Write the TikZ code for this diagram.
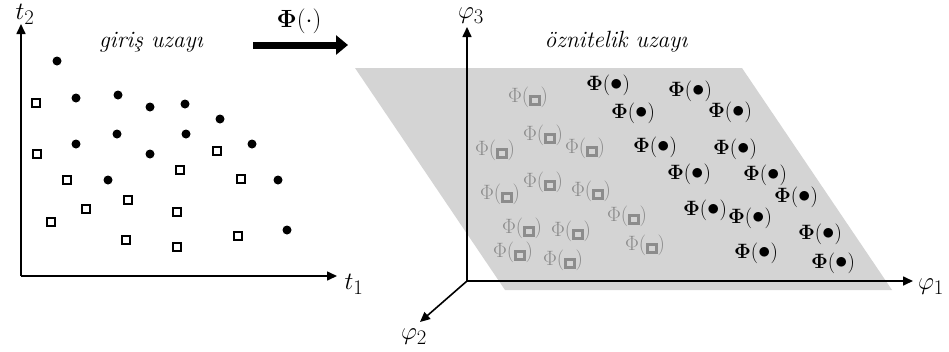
\documentclass[tikz,border=0pt]{standalone}
\usepackage{amsmath}
\usetikzlibrary{arrows.meta}
\definecolor{planegray}{HTML}{D4D4D4}
\definecolor{graytxt}{HTML}{8C8C8C}
\newcommand{\sqm}{\raisebox{0.0em}{\setlength{\fboxrule}{0.13em}\setlength{\fboxsep}{0.06em}\fbox{\rule{0.15em}{0pt}\rule{0pt}{0.15em}}}}
\newcommand{\bigdot}{\raisebox{-0.04em}{\scalebox{1.2}{$\bullet$}}}
\newcommand{\phidot}{$\mathbf{\Phi}($\bigdot$)$}
\newcommand{\phisq}{$\Phi($\sqm$)$}
\tikzset{
  dot/.style={circle,fill=black,inner sep=0pt,minimum size=9pt},
  sqr/.style={rectangle,draw=black,fill=white,line width=2.3pt,inner sep=0pt,minimum size=8.5pt},
  axis/.style={line width=1.6pt,-{Triangle[length=10pt,width=9pt]}},
  lbl/.style={font=\fontsize{28}{32}\selectfont,inner sep=0pt},
  title/.style={font=\fontsize{23.5}{27}\selectfont\itshape,inner sep=0pt},
  blk/.style={font=\fontsize{20}{24}\selectfont,inner sep=0pt,text=black},
  gry/.style={font=\fontsize{21.5}{25}\selectfont,inner sep=0pt,text=graytxt},
  maplbl/.style={font=\fontsize{24}{28}\selectfont,inner sep=0pt},
}
\begin{document}
\begin{tikzpicture}[x=1pt,y=-1pt]
\useasboundingbox (0,0) rectangle (949,351);
% ---------- left: input space ----------
\coordinate (O1) at (21,276);
\coordinate (T2) at (21,24);
\coordinate (T1) at (337,276);
\draw[axis] (O1) -- (T2);
\draw[axis] (O1) -- (T1);
\node[lbl] (t2) at (25,14) {$t_2$};
\node[lbl] (t1) at (354,284) {$t_1$};
\node[title] (giris) at (151,42) {giriş uzayı};
\foreach \x/\y [count=\i] in {57/61,76/98,118/95,150/107,185/104,220/119,76/144,117/134,186/134,150/154,252/144,108/180,278/180,287/230}
  \node[dot] (d\i) at (\x,\y) {};
\foreach \x/\y [count=\i] in {36/103,37/154,67/180,86/209,51/222,128/200,126/240,180/170,177/212,177/247,217/151,241/179,238/236}
  \node[sqr] (s\i) at (\x,\y) {};
% ---------- mapping arrow ----------
\coordinate (A0) at (253,45);
\coordinate (A1) at (348,45);
\draw[line width=7pt,-{Triangle[length=12pt,width=19pt]}] (A0) -- (A1);
\node[maplbl] (phimap) at (299,21) {$\mathbf{\Phi}(\cdot)$};
% ---------- right: feature space ----------
\fill[planegray] (355,68) -- (742,68) -- (892,290) -- (505,290) -- cycle;
\coordinate (O2) at (467,281);
\coordinate (P3) at (467,27);
\coordinate (P1) at (913,281);
\coordinate (P2) at (420,322);
\draw[axis] (O2) -- (P3);
\draw[axis] (O2) -- (P1);
\draw[axis] (O2) -- (P2);
\node[lbl] (phi3) at (471,16) {$\varphi_3$};
\node[lbl] (phi1) at (931,287) {$\varphi_1$};
\node[lbl] (phi2) at (414,337) {$\varphi_2$};
\node[title] (oznit) at (616,42) {öznitelik uzayı};
\foreach \x/\y [count=\i] in {608/85,690/91,633/113,730/112,655/147,735/149,689/174,765/175,796/197,705/210,750/218,820/234,756/253,833/263}
  \node[blk] (pd\i) at (\x,\y) {\phidot};
\foreach \x/\y [count=\i] in {528/97,543/135,495/150,585/148,543/182,591/191,500/194,627/216,522/228,571/231,513/252,563/260,645/245}
  \node[gry] (ps\i) at (\x,\y) {\phisq};
\end{tikzpicture}
\end{document}
